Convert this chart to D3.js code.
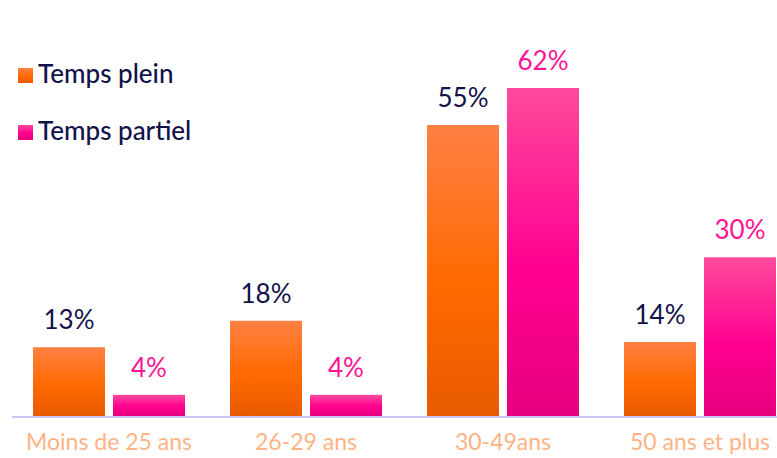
<!DOCTYPE html>
<html lang="fr">
<head>
<meta charset="UTF-8">
<title>Temps plein / Temps partiel par âge</title>
<script src="https://cdnjs.cloudflare.com/ajax/libs/d3/7.8.5/d3.min.js"></script>
<style>
  body { margin: 0; background: #fff; overflow: hidden; }
  svg { display: block; font-family: "Lato", "Noto Sans", sans-serif; }
</style>
</head>
<body>
<div id="chart"></div>
<script>
// Data
const categories = ["Moins de 25 ans", "26-29 ans", "30-49ans", "50 ans et plus"];
const series = ["Temps plein", "Temps partiel"];
const tempsPlein = [13, 18, 55, 14];
const tempsPartiel = [4, 4, 62, 30];

const width = 777, height = 458;
const baseY = 416;

const svg = d3.select("#chart").append("svg")
  .attr("width", width).attr("height", height);

// gradients
const defs = svg.append("defs");
const grads = [
  { id: "gOrange", stops: ["#ff8044", "#ff6a00", "#e85a00"] },
  { id: "gPink", stops: ["#ff4a9c", "#ff0090", "#e6007e"] }
];
grads.forEach(g => {
  const lg = defs.append("linearGradient").attr("id", g.id)
    .attr("x1", 0).attr("y1", 0).attr("x2", 0).attr("y2", 1);
  lg.append("stop").attr("offset", "0%").attr("stop-color", g.stops[0]);
  lg.append("stop").attr("offset", "55%").attr("stop-color", g.stops[1]);
  lg.append("stop").attr("offset", "100%").attr("stop-color", g.stops[2]);
});

const x0 = d3.scaleBand().domain(categories).range([10.5, 798.5]);
const x1 = d3.scaleBand().domain(series).range([22.5, 174.5]).paddingInner(0.1);
const y = d3.scaleLinear().domain([0, 62]).range([baseY, 88]);

const fills = { "Temps plein": "url(#gOrange)", "Temps partiel": "url(#gPink)" };
const labelColors = { "Temps plein": "#12124a", "Temps partiel": "#ff1493" };

const rows = categories.map((c, i) => ({
  cat: c,
  vals: [
    { s: "Temps plein", v: tempsPlein[i] },
    { s: "Temps partiel", v: tempsPartiel[i] }
  ]
}));

const g = svg.selectAll(".grp").data(rows).join("g")
  .attr("class", "grp")
  .attr("transform", d => `translate(${x0(d.cat)},0)`);

g.selectAll("rect").data(d => d.vals).join("rect")
  .attr("x", d => x1(d.s))
  .attr("width", x1.bandwidth())
  .attr("y", d => y(d.v))
  .attr("height", d => baseY - y(d.v))
  .attr("fill", d => fills[d.s]);

g.selectAll("text.val").data(d => d.vals).join("text")
  .attr("class", "val")
  .attr("x", d => x1(d.s) + x1.bandwidth() / 2)
  .attr("y", d => y(d.v) - 18)
  .attr("text-anchor", "middle")
  .attr("font-size", "26px")
  .attr("fill", d => labelColors[d.s])
  .text(d => d.v + "%");

// baseline
svg.append("line")
  .attr("x1", 12).attr("x2", width)
  .attr("y1", baseY + 1).attr("y2", baseY + 1)
  .attr("stroke", "#c8c8f4").attr("stroke-width", 2);

// category labels
svg.selectAll("text.cat").data(categories).join("text")
  .attr("class", "cat")
  .attr("x", d => x0(d) + x0.bandwidth() / 2)
  .attr("y", 450)
  .attr("text-anchor", "middle")
  .attr("font-size", "23px")
  .attr("fill", "#ffb385")
  .text(d => d);

// legend
const legend = svg.selectAll(".leg").data(series).join("g")
  .attr("class", "leg")
  .attr("transform", (d, i) => `translate(18,${68 + i * 57})`);
legend.append("rect")
  .attr("width", 15).attr("height", 15)
  .attr("fill", d => fills[d]);
legend.append("text")
  .attr("x", 20).attr("y", 15)
  .attr("font-size", "26px")
  .attr("font-weight", 500)
  .attr("fill", "#12124a")
  .text(d => d);
</script>
</body>
</html>
